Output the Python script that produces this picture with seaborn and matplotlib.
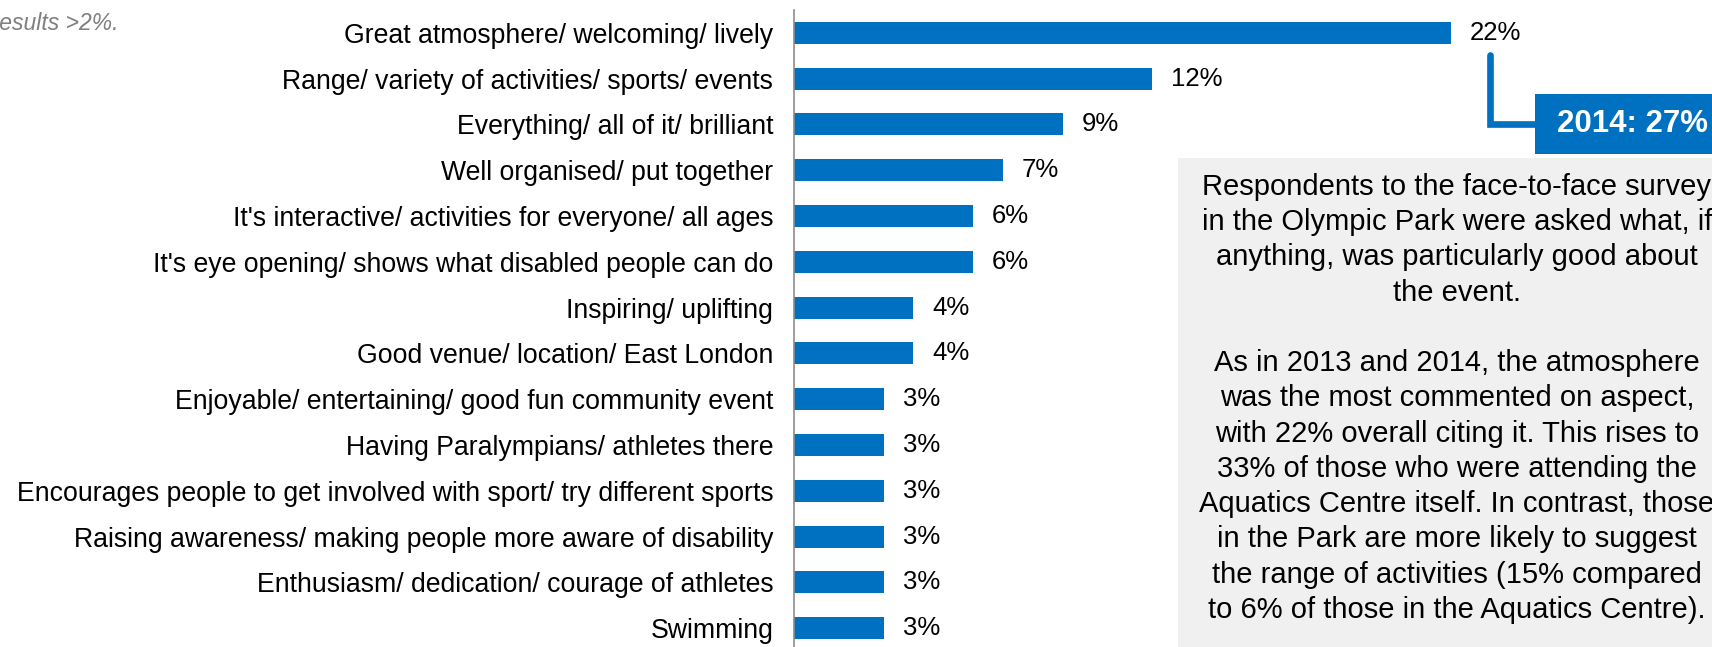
import matplotlib
matplotlib.use("Agg")
import matplotlib.pyplot as plt
from matplotlib.ticker import FixedLocator
from matplotlib.patches import Rectangle
from matplotlib.lines import Line2D
import pandas as pd
import seaborn as sns

# what visitors said was particularly good (% of respondents)
categories = [
    "Great atmosphere/ welcoming/ lively",
    "Range/ variety of activities/ sports/ events",
    "Everything/ all of it/ brilliant",
    "Well organised/ put together",
    "It's interactive/ activities for everyone/ all ages",
    "It's eye opening/ shows what disabled people can do",
    "Inspiring/ uplifting",
    "Good venue/ location/ East London",
    "Enjoyable/ entertaining/ good fun community event",
    "Having Paralympians/ athletes there",
    "Encourages people to get involved with sport/ try different sports",
    "Raising awareness/ making people more aware of disability",
    "Enthusiasm/ dedication/ courage of athletes",
    "Swimming",
]
values = [22, 12, 9, 7, 6, 6, 4, 4, 3, 3, 3, 3, 3, 3]
callout_label = "2014: 27%"
base_note = "Base: all respondents. Showing results >2%."
summary = (
    "Respondents to the face-to-face survey\n"
    "in the Olympic Park were asked what, if\n"
    "anything, was particularly good about\n"
    "the event.\n"
    "\n"
    "As in 2013 and 2014, the atmosphere\n"
    "was the most commented on aspect,\n"
    "with 22% overall citing it. This rises to\n"
    "33% of those who were attending the\n"
    "Aquatics Centre itself. In contrast, those\n"
    "in the Park are more likely to suggest\n"
    "the range of activities (15% compared\n"
    "to 6% of those in the Aquatics Centre)."
)

BLUE = "#0070C0"
W, H = 1712, 647

sns.set_style("white")
plt.rcParams['font.family'] = ['Liberation Sans', 'DejaVu Sans']

df = pd.DataFrame({"reason": categories, "pct": values})

fig = plt.figure(figsize=(W / 100, H / 100), dpi=100)
ax = fig.add_axes([794 / W, -4 / H, 918 / W, 641 / H])
ax.patch.set_alpha(0)

sns.barplot(data=df, x="pct", y="reason", orient="h", color=BLUE,
            saturation=1, width=0.48, linewidth=0, ax=ax)
ax.set_xlim(0, 918 / 29.86)
ax.bar_label(ax.containers[0], labels=[f"{v}%" for v in values],
             padding=13.7, fontsize=18.5, color="black")

ax.set_xlabel("")
ax.set_ylabel("")
ax.set_xticks([])
for side in ["top", "right", "bottom"]:
    ax.spines[side].set_visible(False)
ax.spines["left"].set_color("#8C8C8C")
ax.spines["left"].set_linewidth(1.2)
ax.yaxis.set_minor_locator(FixedLocator([i - 0.5 for i in range(len(categories) + 1)]))
ax.tick_params(axis="y", which="major", length=0, pad=15, labelsize=19.2, labelcolor="black")
ax.tick_params(axis="y", which="minor", length=5, width=1.2, color="#8C8C8C", direction="out")

# grey commentary panel
fig.add_artist(Rectangle((1178 / W, 0), (W - 1178) / W, (H - 158) / H,
                         transform=fig.transFigure, facecolor="#F0F0F0",
                         edgecolor="none", zorder=0))
fig.text(1457 / W, 1 - 618 / H, summary, ha="center", va="baseline",
         multialignment="center", fontsize=21, linespacing=1.33, color="black")

# 2014 comparison callout
fig.add_artist(Line2D([1489.5 / W, 1489.5 / W, 1536 / W],
                      [1 - 55 / H, 1 - 123.5 / H, 1 - 123.5 / H],
                      transform=fig.transFigure, color=BLUE, linewidth=4.8,
                      solid_joinstyle="miter"))
fig.add_artist(Rectangle((1535 / W, 1 - 154 / H), (W - 1535) / W, 60 / H,
                         transform=fig.transFigure, facecolor=BLUE,
                         edgecolor="none"))
fig.text(1557 / W, 1 - 124 / H, callout_label, ha="left", va="center",
         fontsize=22.5, fontweight="bold", color="white")

fig.text(118 / W, 1 - 30 / H, base_note, ha="right", va="baseline",
         style="italic", fontsize=16.5, color="#7F7F7F")

fig.savefig("out.png", dpi=100)
